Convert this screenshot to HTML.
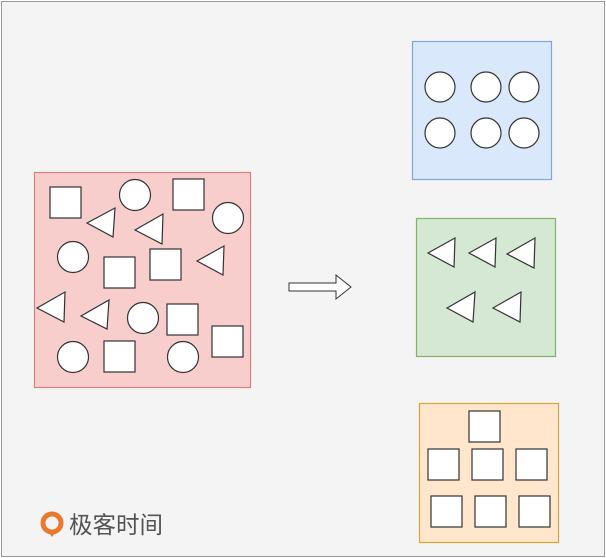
<!DOCTYPE html>
<html><head><meta charset="utf-8"><style>
html,body{margin:0;padding:0;width:606px;height:558px;overflow:hidden;background:#fff}
</style></head><body>
<svg width="606" height="558" viewBox="0 0 606 558" xmlns="http://www.w3.org/2000/svg">
<rect x="1.5" y="1.5" width="603" height="555" fill="#f4f4f4" stroke="#9a9a9a"/>
<g stroke="#333" stroke-width="1.2" fill="#fff">
<rect x="34.5" y="172.5" width="216" height="215" fill="#f8cecc" stroke="#d9807c"/>
<rect x="50" y="187" width="31" height="31"/>
<rect x="173" y="179" width="31" height="31"/>
<rect x="104" y="257" width="31" height="31"/>
<rect x="150" y="249" width="31" height="31"/>
<rect x="167" y="304" width="31" height="31"/>
<rect x="212" y="326" width="31" height="31"/>
<rect x="104" y="341" width="31" height="31"/>
<circle cx="135" cy="195" r="15.5"/>
<circle cx="228" cy="218" r="15.5"/>
<circle cx="73" cy="257" r="15.5"/>
<circle cx="143" cy="318" r="15.5"/>
<circle cx="73" cy="357" r="15.5"/>
<circle cx="183" cy="357" r="15.5"/>
<polygon points="87,223 115,208 113,237"/>
<polygon points="135,230 163,214 162,244"/>
<polygon points="197,261 224,246 223,275"/>
<polygon points="37,308 65,292 64,322"/>
<polygon points="81,316 109,300 107,329"/>

<rect x="412.5" y="41.5" width="139" height="138" fill="#dae8fc" stroke="#7ea6d8"/>
<circle cx="440" cy="87" r="15"/><circle cx="486" cy="87" r="15"/><circle cx="524" cy="87" r="15"/>
<circle cx="440" cy="133" r="15"/><circle cx="486" cy="133" r="15"/><circle cx="524" cy="133" r="15"/>

<rect x="416.5" y="218.5" width="139" height="138" fill="#d5e8d4" stroke="#82b366"/>
<polygon points="428,253 455,238 454,267"/>
<polygon points="469,253 496,238 495,267"/>
<polygon points="507,254 535,238 534,268"/>
<polygon points="447,308 475,292 473,322"/>
<polygon points="493,308 521,292 520,322"/>

<rect x="419.5" y="403.5" width="139" height="139" fill="#ffe6cc" stroke="#d6a636"/>
<rect x="469" y="411" width="31" height="31"/>
<rect x="428" y="449" width="31" height="31"/>
<rect x="472" y="449" width="31" height="31"/>
<rect x="516" y="449" width="31" height="31"/>
<rect x="431" y="496" width="31" height="31"/>
<rect x="475" y="496" width="31" height="31"/>
<rect x="519" y="496" width="31" height="31"/>

<polygon points="289,283 336,283 336,275 351,287 336,299 336,291 289,291" stroke-width="1"/>
</g>
<circle cx="52" cy="523" r="9" fill="none" stroke="#e8792e" stroke-width="5"/>
<polygon points="47,530 57,530 52,537" fill="#e8792e"/>
<text x="69" y="533" font-family="'Liberation Sans','Noto Sans CJK SC',sans-serif" font-size="23.5" fill="#555">极客时间</text>
</svg>
</body></html>
